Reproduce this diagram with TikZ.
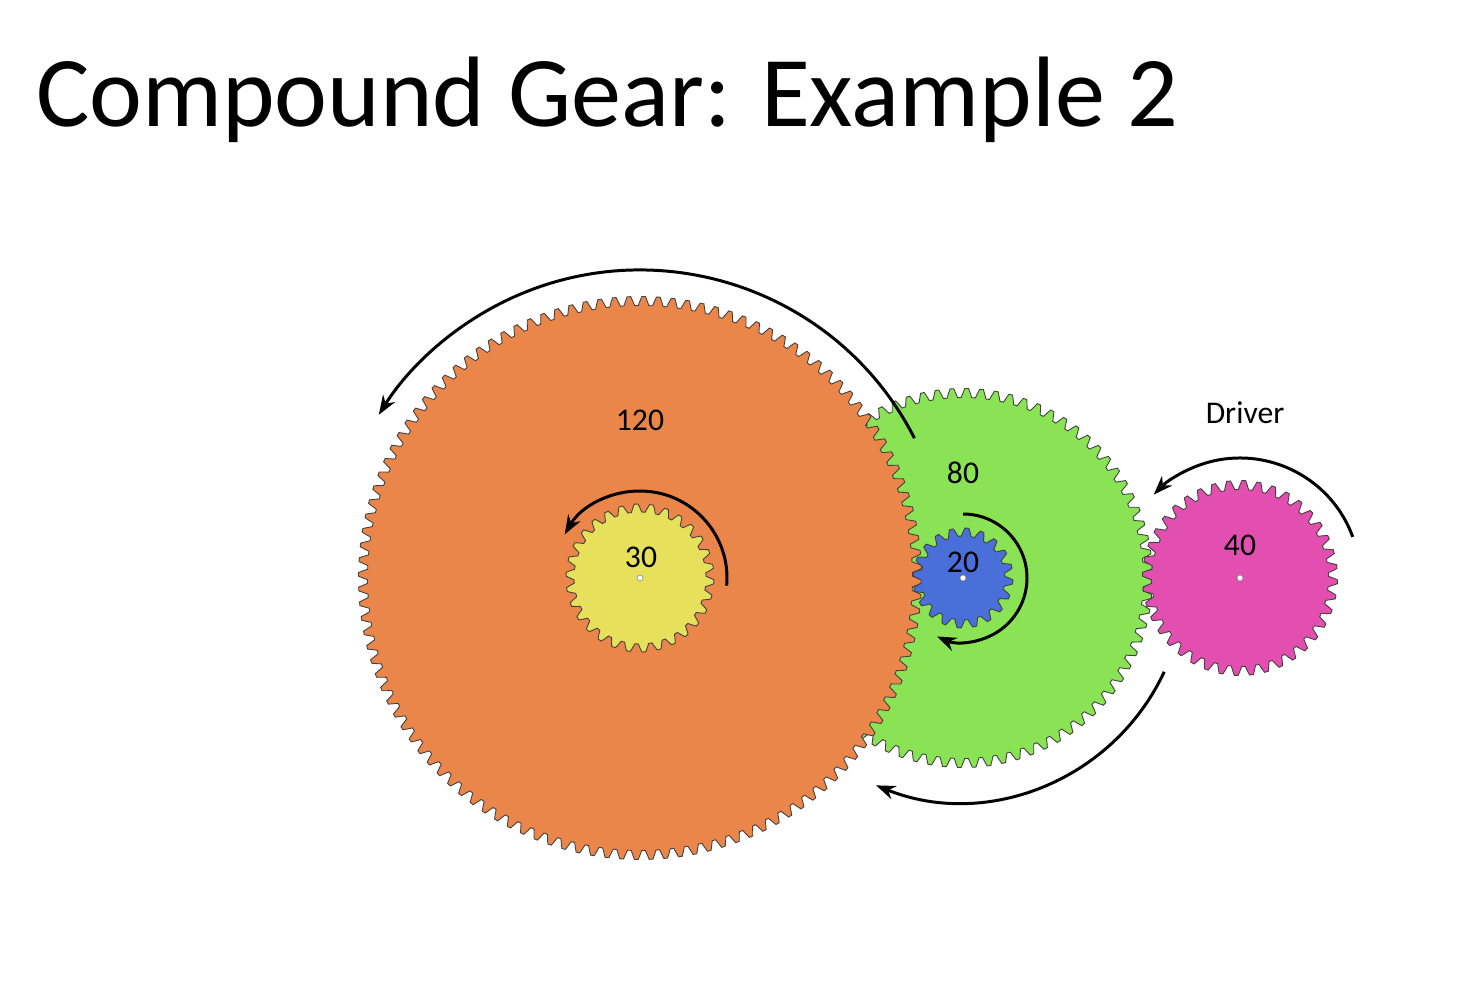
\documentclass[tikz,border=0pt]{standalone}
\usepackage{fontspec}
\setmainfont{Carlito}
\usetikzlibrary{arrows.meta}
\definecolor{cor}{HTML}{EB864B}
\definecolor{cye}{HTML}{E6E05A}
\definecolor{cgr}{HTML}{8AE354}
\definecolor{cbl}{HTML}{4A6FD8}
\definecolor{cma}{HTML}{E34FB0}
\newcommand{\mygear}[6]{% cx cy r n color depth
  \begin{scope}[shift={(#1,#2)}]
  \draw[fill=#5, draw=black!75, line width=0.5pt] plot[domain=0:#4, samples={8*#4+1}, variable=\t] ({(\t/#4)*360}:{#3+#6*max(-0.5,min(0.5,1.4*sin(360*(\t-floor(\t)))))}) -- cycle;
  \draw[fill=white, draw=black!50, line width=0.3pt] (0,0) circle[radius=3];
  \end{scope}}
\tikzset{rot/.style={-{Stealth[length=11pt,width=8pt]}, line width=1.7pt, black},
  lab/.style={font=\fontsize{18}{20}\selectfont}}
\begin{document}
\begin{tikzpicture}[x=0.02cm,y=-0.02cm]
\useasboundingbox (0,0) rectangle (1475,986);
\node[anchor=west, font=\fontsize{57}{60}\selectfont] (title) at (30,100) {Compound Gear: Example 2};
\mygear{963}{578}{185}{80}{cgr}{9}
\mygear{640}{578}{277}{120}{cor}{9}
\mygear{1240}{578}{93}{40}{cma}{9}
\mygear{640}{578}{70}{30}{cye}{8}
\mygear{963}{578}{46}{20}{cbl}{8}
\coordinate (oc) at (640,578);
\coordinate (gc) at (963,578);
\coordinate (mc) at (1240,578);
\draw[rot] ([shift={(-27:308)}]oc) arc[start angle=-27,end angle=-148,radius=308];
\draw[rot] ([shift={(5:87)}]oc) arc[start angle=5,end angle=-150,radius=87];
\draw[rot] ([shift={(-90:64)}]gc) arc[start angle=-90,end angle=114,radius=64];
\draw[rot] ([shift={(-20:120)}]mc) arc[start angle=-20,end angle=-136,radius=120];
\draw[rot] ([shift={(25:222)}]gc) arc[start angle=25,end angle=112,radius=225];
\node[lab] (l120) at (640,420) {120};
\node[lab] (l80) at (963,473) {80};
\node[lab] (l30) at (641,557) {30};
\node[lab] (l20) at (963,562) {20};
\node[lab] (l40) at (1240,545) {40};
\node[lab] (ldr) at (1245,413) {Driver};
\end{tikzpicture}
\end{document}
